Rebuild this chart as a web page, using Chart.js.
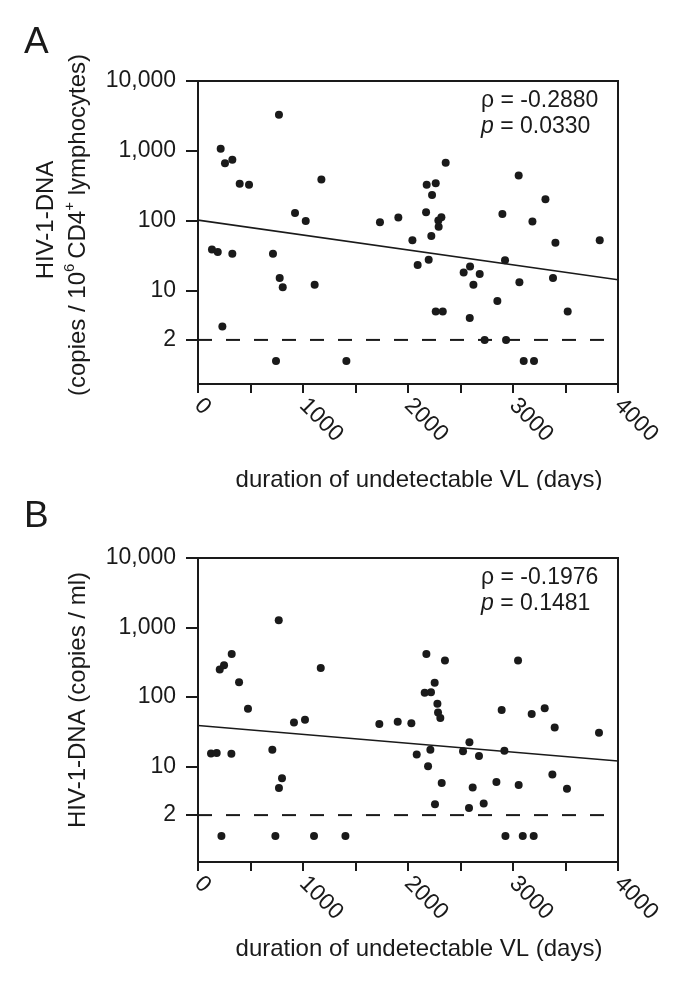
<!DOCTYPE html>
<html>
<head>
<meta charset="utf-8">
<script src="https://cdn.jsdelivr.net/npm/chart.js@4.4.1/dist/chart.umd.min.js"></script>
<style>
html, body { margin: 0; padding: 0; background: #fff; }
canvas { display: block; }
</style>
</head>
<body>
<canvas id="chart_a" width="685" height="490"></canvas>
<canvas id="chart_b" width="685" height="493"></canvas>
<script>
// panel A: HIV-1-DNA per 10^6 CD4+ cells vs duration of undetectable VL
const days_a = [771, 216, 257, 327, 397, 486, 1175, 924, 1026, 133, 188, 327, 714, 778, 807, 1111, 232, 743, 1413,
  1733, 1908, 2042, 2092, 2197, 2172, 2178, 2264, 2229, 2359, 2222, 2289, 2318, 2292, 2264, 2331,
  2530, 2591, 2683, 2623, 2588, 2730, 2851, 2899, 2924, 2934, 3054, 3061, 3102, 3200, 3185, 3309, 3404, 3381, 3521, 3826]
const dna_a = [3300, 1080, 670, 750, 340, 330, 390, 130, 100, 39, 36, 34, 34, 15.3, 11.3, 12.3, 3.1, 1, 1,
  96, 112, 53, 23.5, 28, 133, 330, 345, 235, 680, 61, 102, 113, 83, 5.1, 5.1,
  18.3, 22.3, 17.5, 12.3, 4.1, 2, 7.2, 126, 27.5, 2, 445, 13.3, 1, 1, 98, 204, 49, 15.3, 5.1, 53]
const fit_a = [103, 14.5]

// panel B: HIV-1-DNA per ml
const days_b = [769, 207, 248, 321, 391, 476, 1169, 914, 1019, 124, 178, 318, 708, 800, 771,
  1727, 1902, 2032, 2083, 2191, 2213, 2175, 2159, 2219, 2254, 2280, 2286, 2308, 2352, 2321, 2257,
  2524, 2585, 2676, 2616, 2581, 2721, 2842, 2892, 2918, 3048, 3054, 3178, 3302, 3397, 3375, 3514, 3819,
  223, 737, 1105, 1404, 2928, 3093, 3197]
const dna_b = [1270, 248, 287, 417, 163, 68, 262, 43, 47, 15.4, 15.7, 15.3, 17.5, 6.8, 4.9,
  41, 44, 42, 14.9, 10.1, 17.5, 417, 115, 117, 160, 80, 60, 50, 335, 5.8, 2.87,
  16.6, 22.4, 14.2, 5.0, 2.54, 2.93, 6.0, 65, 16.8, 335, 5.4, 57, 69, 36.4, 7.7, 4.8, 30.5,
  1, 1, 1, 1, 1, 1, 1]
const fit_b = [38.9, 12.0]

const fit_days = [0, 4000]
const cutoff = 2
const cutoff_days = [0, 3870]
const y_tick_values = [2, 10, 100, 1000, 10000]
const y_tick_labels = ['2', '10', '100', '1,000', '10,000']
const x_label_values = [0, 1000, 2000, 3000, 4000]

const FONT = '"Liberation Sans", Arial, Helvetica, sans-serif'
const INK = '#1a1a1a'

function to_points(xs, ys) {
  return xs.map((x, i) => ({ x: x, y: ys[i] }))
}

// draws rotated text made of pieces (for superscripts)
function draw_vertical(ctx, parts, x, y_center) {
  ctx.save()
  ctx.translate(x, y_center)
  ctx.rotate(-Math.PI / 2)
  ctx.textAlign = 'left'
  ctx.textBaseline = 'alphabetic'
  let total = 0
  parts.forEach(p => { ctx.font = p.font; p.w = ctx.measureText(p.text).width; total += p.w })
  let pos = -total / 2
  parts.forEach(p => {
    ctx.font = p.font
    ctx.fillText(p.text, pos, p.raise ? -p.raise : 0)
    pos += p.w
  })
  ctx.restore()
}

function build_chart(canvas_id, opt) {
  const extras = {
    id: 'extras_' + canvas_id,
    afterDraw(chart) {
      const ctx = chart.ctx
      const area = chart.chartArea
      const xs = chart.scales.x
      ctx.save()
      ctx.strokeStyle = INK
      ctx.lineWidth = 2
      ctx.strokeRect(area.left, area.top, area.right - area.left, area.bottom - area.top)

      ctx.fillStyle = INK
      // rotated x labels
      ctx.font = '23px ' + FONT
      x_label_values.forEach(v => {
        ctx.save()
        ctx.translate(xs.getPixelForValue(v), area.bottom + 18)
        ctx.rotate(Math.PI / 4)
        ctx.textAlign = 'left'
        ctx.textBaseline = 'middle'
        ctx.fillText(String(v), 0, 0)
        ctx.restore()
      })

      // x title
      ctx.font = '24px ' + FONT
      ctx.textAlign = 'center'
      ctx.textBaseline = 'alphabetic'
      ctx.fillText('duration of undetectable VL (days)', 419, opt.x_title_y)

      // panel letter
      ctx.font = '37px ' + FONT
      ctx.textAlign = 'left'
      ctx.fillText(opt.letter, 24, opt.letter_y)

      // y title
      opt.y_title.forEach(line => draw_vertical(ctx, line.parts, line.x, line.y))

      // statistics
      ctx.font = '23px ' + FONT
      ctx.textAlign = 'left'
      ctx.fillText('\u03c1 = ' + opt.rho, 481, area.top + 26)
      ctx.font = 'italic 23px ' + FONT
      ctx.fillText('p', 481, area.top + 52)
      const pw = ctx.measureText('p').width
      ctx.font = '23px ' + FONT
      ctx.fillText(' = ' + opt.pval, 481 + pw, area.top + 52)
      ctx.restore()
    }
  }

  return new Chart(document.getElementById(canvas_id), {
    type: 'scatter',
    data: {
      datasets: [
        {
          data: to_points(opt.days, opt.dna),
          backgroundColor: INK,
          borderWidth: 0,
          pointRadius: 4,
          pointHoverRadius: 4,
          order: 0
        },
        {
          type: 'line',
          data: to_points(fit_days, opt.fit),
          borderColor: INK,
          borderWidth: 1.6,
          pointRadius: 0,
          fill: false,
          order: 1
        },
        {
          type: 'line',
          data: to_points(cutoff_days, [cutoff, cutoff]),
          borderColor: INK,
          borderWidth: 2,
          borderDash: [14, 14],
          pointRadius: 0,
          fill: false,
          order: 2
        }
      ]
    },
    options: {
      responsive: false,
      animation: false,
      events: [],
      layout: { padding: { left: 0, top: opt.top, right: 67, bottom: opt.bottom_pad } },
      plugins: { legend: { display: false }, tooltip: { enabled: false } },
      scales: {
        x: {
          type: 'linear',
          min: 0,
          max: 4000,
          afterFit: s => { s.height = 40 },
          border: { display: false },
          grid: { drawOnChartArea: false, drawTicks: true, tickLength: 9, color: INK, lineWidth: 2 },
          ticks: { display: false, stepSize: 500 }
        },
        y: {
          type: 'logarithmic',
          min: opt.y_min,
          max: 10000,
          afterFit: s => { s.width = 198 },
          afterBuildTicks: s => { s.ticks = y_tick_values.map(v => ({ value: v })) },
          border: { display: false },
          grid: { drawOnChartArea: false, drawTicks: true, tickLength: 12, color: INK, lineWidth: 2 },
          ticks: {
            autoSkip: false,
            padding: 10,
            color: INK,
            font: { family: FONT, size: 23 },
            callback: v => y_tick_labels[y_tick_values.indexOf(v)]
          }
        }
      }
    },
    plugins: [extras]
  })
}

const big = '24px ' + FONT
const small = '15px ' + FONT

build_chart('chart_a', {
  days: days_a, dna: dna_a, fit: fit_a,
  top: 81, bottom_pad: 66, y_min: 0.469,
  letter: 'A', letter_y: 53, x_title_y: 487,
  rho: '-0.2880', pval: '0.0330',
  y_title: [
    { x: 53, y: 220, parts: [{ text: 'HIV-1-DNA', font: big }] },
    { x: 85, y: 225, parts: [
      { text: '(copies / 10', font: big },
      { text: '6', font: small, raise: 11 },
      { text: '\u2009CD4', font: big },
      { text: '+', font: small, raise: 11 },
      { text: ' lymphocytes)', font: big }
    ] }
  ]
})

build_chart('chart_b', {
  days: days_b, dna: dna_b, fit: fit_b,
  top: 68, bottom_pad: 81, y_min: 0.423,
  letter: 'B', letter_y: 37, x_title_y: 466,
  rho: '-0.1976', pval: '0.1481',
  y_title: [
    { x: 85, y: 210, parts: [{ text: 'HIV-1-DNA (copies / ml)', font: big }] }
  ]
})
</script>
</body>
</html>
